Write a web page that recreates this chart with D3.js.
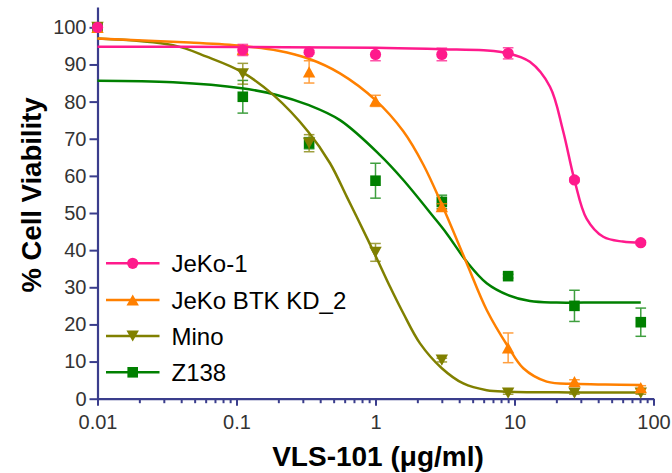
<!DOCTYPE html>
<html>
<head>
<meta charset="utf-8">
<script src="https://cdn.jsdelivr.net/npm/d3@7/dist/d3.min.js"></script>
<style>
  html, body { margin: 0; padding: 0; background: #fff; }
  svg { display: block; }
  text { font-family: "Liberation Sans", Arial, Helvetica, sans-serif; }
</style>
</head>
<body>
<svg id="chart" width="672" height="473"></svg>
<script>
// ---------------- data ----------------
const doses = [0.01, 0.111, 0.333, 1, 3, 9, 27, 81];
const seriesNames = ["JeKo-1", "JeKo BTK KD_2", "Mino", "Z138"];

const jeko1Mean = [100, 93.9, 93.3, 92.7, 92.7, 93.0, 58.9, 42.0];
const jeko1Err  = [0, 1.5, 0.5, 1.7, 1.7, 1.5, 0.5, 0.5];
const btkMean   = [100, 94.0, 88.0, 80.2, 51.7, 13.7, 4.6, 3.0];
const btkErr    = [0, 1.0, 3.0, 1.5, 0.8, 4.0, 0.5, 0.5];
const minoMean  = [100, 87.5, 68.8, 39.4, 10.4, 1.5, 1.5, 1.5];
const minoErr   = [0, 2.8, 2.3, 2.4, 0.5, 0.3, 0.3, 0.3];
const z138Mean  = [100, 81.3, 68.8, 58.7, 53.0, 33.0, 25.0, 20.6];
const z138Err   = [0, 4.4, 1.5, 4.7, 1.8, 0.5, 4.2, 3.8];

// fitted curves as [dose, % viability]
const jeko1Fit = [[0.01,94.8],[0.1,94.7],[1,94.5],[3,94.1],[6,93.8],[9,93.0],[12.9,90.7],[18,84.0],[22.3,72.3],[27,58.9],[33,48.5],[43.5,43.6],[60,42.3],[81,42.0]];
const btkFit   = [[0.01,97.0],[0.046,95.9],[0.109,95.0],[0.2,93.7],[0.328,91.6],[0.555,87.6],[1,80.4],[1.585,72.0],[2.21,63.0],[3,52.3],[4.53,36.5],[6.31,23.9],[9,14.0],[11.57,8.2],[17.05,4.6],[27,4.0],[45,3.8],[81,3.7]];
const minoFit  = [[0.01,97.0],[0.035,95.2],[0.061,92.1],[0.109,88.0],[0.184,81.8],[0.328,71.9],[0.471,63.4],[0.621,54.4],[0.732,49.0],[1,38.5],[1.27,30.2],[1.585,23.0],[2.09,14.9],[3,8.2],[4.28,4.1],[6.31,2.3],[9,1.9],[25,1.7],[81,1.7]];
const z138Fit  = [[0.01,85.6],[0.035,85.2],[0.109,83.6],[0.195,81.8],[0.328,79.1],[0.555,75.0],[1.078,65.6],[1.585,58.9],[2.61,49.0],[3.25,44.5],[4.53,36.9],[6.31,31.1],[9,27.9],[12.93,26.3],[20.1,25.9],[40,25.9],[81,25.9]];

const xTickValues = [0.01, 0.1, 1, 10, 100];
const xTickLabels = ["0.01", "0.1", "1", "10", "100"];
const yTickValues = [0, 10, 20, 30, 40, 50, 60, 70, 80, 90, 100];
const xTitle = "VLS-101 (\u03bcg/ml)";
const yTitle = "% Cell Viability";

// ---------------- layout ----------------
const svg = d3.select("#chart");
const axisColor = "#3a3d8c";
const x = d3.scaleLog().domain([0.01, 100]).range([97.5, 653.5]);
const y = d3.scaleLinear().domain([0, 105.5]).range([398.7, 6.9]);

const series = [
  { name: seriesNames[3], mean: z138Mean, err: z138Err, fit: z138Fit, color: "#008000", shape: "square" },
  { name: seriesNames[2], mean: minoMean, err: minoErr, fit: minoFit, color: "#808000", shape: "down" },
  { name: seriesNames[1], mean: btkMean, err: btkErr, fit: btkFit, color: "#ff8000", shape: "up" },
  { name: seriesNames[0], mean: jeko1Mean, err: jeko1Err, fit: jeko1Fit, color: "#ff1a8c", shape: "circle" }
];

function markerPath(shape) {
  if (shape === "circle") return d3.symbol(d3.symbolCircle, Math.PI * 5.6 * 5.6)();
  if (shape === "square") { const s = 5.3; return `M${-s},${-s}H${s}V${s}H${-s}Z`; }
  const w = 6.2, h = 5.6;
  if (shape === "up") return `M0,${-h}L${w},${h}L${-w},${h}Z`;
  return `M0,${h}L${w},${-h}L${-w},${-h}Z`;
}

// ---------------- axes ----------------
const yAxis = d3.axisLeft(y).tickValues(yTickValues).tickSize(8).tickSizeOuter(0).tickPadding(3);
const gy = svg.append("g").attr("transform", `translate(${x(0.01)},0)`).call(yAxis);

const minorTicks = [];
[0.01, 0.1, 1, 10].forEach(d => { for (let k = 2; k <= 9; k++) minorTicks.push(d * k); });
const gxMinor = svg.append("g").attr("transform", `translate(0,${y(0)})`)
  .call(d3.axisBottom(x).tickValues(minorTicks).tickSize(4.5).tickSizeOuter(0).tickFormat(""));
gxMinor.select(".domain").remove();

const xAxis = d3.axisBottom(x).tickValues(xTickValues).tickSize(7).tickSizeOuter(0)
  .tickPadding(9).tickFormat((d, i) => xTickLabels[i]);
const gx = svg.append("g").attr("transform", `translate(0,${y(0)})`).call(xAxis);

[gx, gy, gxMinor].forEach(g => {
  g.selectAll(".domain").attr("stroke", axisColor).attr("stroke-width", 2.2);
  g.selectAll(".tick line").attr("stroke", axisColor).attr("stroke-width", 2);
  g.selectAll(".tick text").attr("fill", "#333").style("font-size", "20px")
    .style("font-family", "'Liberation Sans', Arial, sans-serif");
});

// titles
svg.append("text").attr("x", 378).attr("y", 466).attr("text-anchor", "middle")
  .style("font-size", "28px").style("font-weight", "bold").attr("fill", "#000").text(xTitle);
svg.append("text").attr("transform", "translate(41,195) rotate(-90)").attr("text-anchor", "middle")
  .style("font-size", "27.5px").style("font-weight", "bold").attr("fill", "#000").text(yTitle);

// ---------------- series ----------------
const line = d3.line().x(d => x(d[0])).y(d => y(d[1])).curve(d3.curveCatmullRom.alpha(0.5));

series.forEach(s => {
  const g = svg.append("g");
  const pts = doses.map((d, i) => ({ d, m: s.mean[i], e: s.err[i] }));
  // error bars
  const eb = g.append("g").attr("stroke", s.color).attr("stroke-width", 1.5).attr("opacity", 0.75);
  pts.filter(p => p.e > 0).forEach(p => {
    const cx = x(p.d), y1 = y(p.m + p.e), y2 = y(p.m - p.e);
    eb.append("line").attr("x1", cx).attr("x2", cx).attr("y1", y1).attr("y2", y2);
    eb.append("line").attr("x1", cx - 5.3).attr("x2", cx + 5.3).attr("y1", y1).attr("y2", y1);
    eb.append("line").attr("x1", cx - 5.3).attr("x2", cx + 5.3).attr("y1", y2).attr("y2", y2);
  });
  // fit curve
  g.append("path").datum(s.fit).attr("d", line).attr("fill", "none")
    .attr("stroke", s.color).attr("stroke-width", 2.5);
  // markers
  g.selectAll("path.m").data(pts).enter().append("path").attr("class", "m")
    .attr("transform", p => `translate(${x(p.d)},${y(p.m)})`)
    .attr("d", markerPath(s.shape)).attr("fill", s.color);
});

// ---------------- legend ----------------
const legendRows = [series[3], series[2], series[1], series[0]];
const legendY = [263.3, 300, 336, 372.3];
const lg = svg.append("g");
legendRows.forEach((s, i) => {
  const ly = legendY[i];
  lg.append("line").attr("x1", 106).attr("x2", 159.5).attr("y1", ly).attr("y2", ly)
    .attr("stroke", s.color).attr("stroke-width", 2.5);
  lg.append("path").attr("transform", `translate(132.7,${ly})`).attr("d", markerPath(s.shape)).attr("fill", s.color);
  lg.append("text").attr("x", 171.5).attr("y", ly + 8.8).style("font-size", "24px")
    .attr("fill", "#000").text(s.name);
});
</script>
</body>
</html>
